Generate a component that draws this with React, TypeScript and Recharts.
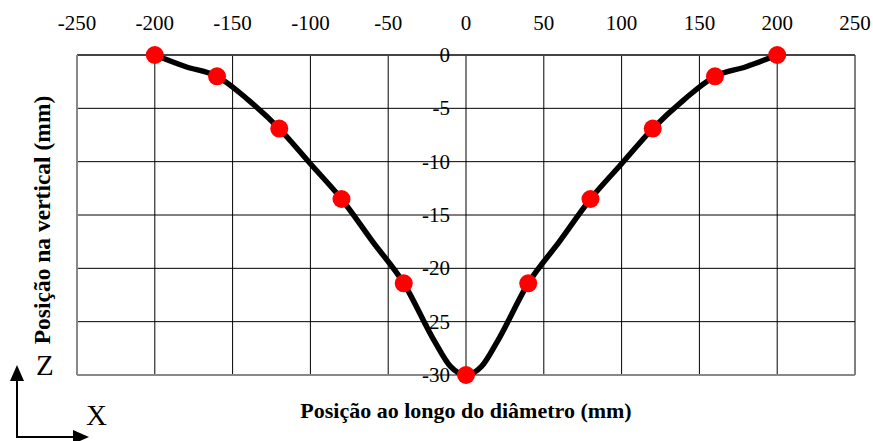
import React from 'react'
import { ComposedChart, Line, Scatter, XAxis, YAxis, CartesianGrid, ReferenceLine } from 'recharts'

// axis ticks
const xTicks = [-250, -200, -150, -100, -50, 0, 50, 100, 150, 200, 250]
const yTicks = [0, -5, -10, -15, -20, -25, -30]

// measured points (red markers)
const pointX = [-200, -160, -120, -80, -40, 0, 40, 80, 120, 160, 200]
const pointZ = [0, -2.0, -6.9, -13.5, -21.4, -30, -21.4, -13.5, -6.9, -2.0, 0]

// fitted profile (black line)
const curveX = [-200, -180, -160, -140, -120, -100, -80, -60, -40, -20, -10, 0, 10, 20, 40, 60, 80, 100, 120, 140, 160, 180, 200]
const curveZ = [0, -1.1, -2.0, -4.2, -6.9, -10.2, -13.5, -17.5, -21.4, -26.9, -29.2, -30, -29.2, -26.9, -21.4, -17.5, -13.5, -10.2, -6.9, -4.2, -2.0, -1.1, 0]

const W = 873
const H = 441
const LEFT = 77
const RIGHT = 18
const TOP = 55
const BOTTOM = 66
const PLOT_W = W - LEFT - RIGHT
const FONT = '"Liberation Serif", "Times New Roman", serif'

const points = pointX.map((x, i) => ({ x, z: pointZ[i] }))
const curve = curveX.map((x, i) => ({ x, z: curveZ[i] }))

// y labels sit next to the x=0 line, not on the left edge
function CenterTick(props: any) {
  const { x, y, payload } = props
  return (
    <text x={x + PLOT_W / 2 - 16} y={y} textAnchor="end" dominantBaseline="central" fontFamily={FONT} fontSize={21} fill="#000">
      {String(payload.value)}
    </text>
  )
}

export default function App() {
  return (
    <div style={{ position: 'absolute', left: 0, top: 0, width: W, height: H, background: '#fff' }}>
      <ComposedChart width={W} height={H} margin={{ top: 0, right: RIGHT, bottom: 0, left: 0 }}>
        <CartesianGrid stroke="#000" strokeWidth={1} />
        <XAxis
          type="number"
          dataKey="x"
          orientation="top"
          domain={[-250, 250]}
          ticks={xTicks}
          interval={0}
          height={TOP}
          tickLine={false}
          tickSize={0}
          tickMargin={25}
          axisLine={{ stroke: '#444', strokeWidth: 2 }}
          tick={{ fill: '#000', fontFamily: FONT, fontSize: 21 }}
        />
        <XAxis
          xAxisId="b"
          type="number"
          dataKey="x"
          orientation="bottom"
          domain={[-250, 250]}
          height={BOTTOM}
          tick={false}
          axisLine={false}
          tickLine={false}
          label={{ value: 'Posição ao longo do diâmetro (mm)', position: 'insideBottom', offset: 23, fill: '#000', fontFamily: FONT, fontSize: 22, fontWeight: 'bold' }}
        />
        <YAxis
          type="number"
          dataKey="z"
          domain={[-30, 0]}
          ticks={yTicks}
          interval={0}
          width={LEFT}
          tickLine={false}
          tickSize={0}
          tickMargin={0}
          axisLine={{ stroke: '#888', strokeWidth: 2 }}
          tick={<CenterTick />}
          label={{ value: 'Posição na vertical (mm)', angle: -90, position: 'center', dx: 3, dy: 5, fill: '#000', fontFamily: FONT, fontSize: 23.5, fontWeight: 'bold' }}
        />
        <ReferenceLine y={-30} stroke="#888" strokeWidth={2} />
        <Line data={curve} dataKey="z" type="monotone" stroke="#000" strokeWidth={5.5} dot={false} isAnimationActive={false} />
        <Scatter data={points} dataKey="z" fill="#ff0000" shape={(p: any) => <circle cx={p.cx} cy={p.cy} r={9} fill="#ff0000" />} isAnimationActive={false} />
      </ComposedChart>
      <svg width={W} height={H} style={{ position: 'absolute', left: 0, top: 0, pointerEvents: 'none' }}>
        <line x1={17} y1={378} x2={17} y2={437} stroke="#000" strokeWidth={2} />
        <line x1={16} y1={437} x2={76} y2={437} stroke="#000" strokeWidth={2} />
        <polygon points="17,365 10,381 24,381" fill="#000" />
        <polygon points="89,437 73,430 73,444" fill="#000" />
        <text x={36} y={375} fontFamily={FONT} fontSize={29} fill="#000">Z</text>
        <text x={86} y={425} fontFamily={FONT} fontSize={29} fill="#000">X</text>
      </svg>
    </div>
  )
}
